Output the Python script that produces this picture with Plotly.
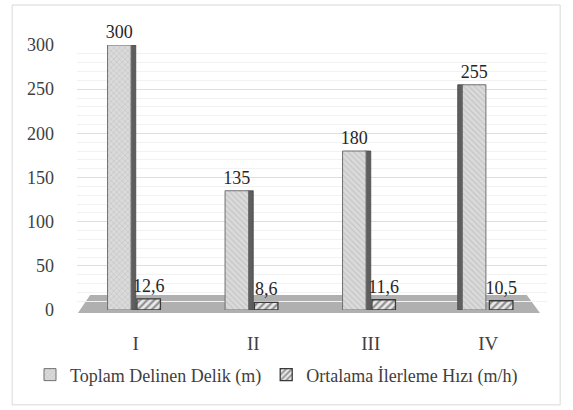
import plotly.graph_objects as go

# Veri
kategoriler = ["I", "II", "III", "IV"]
toplam_delik = [300, 135, 180, 255]
ilerleme_hizi = [12.6, 8.6, 11.6, 10.5]
y_ticks = [0, 50, 100, 150, 200, 250, 300]

FONT = "Liberation Serif, Times New Roman, serif"
GRI = "#404040"


def _virgul(v):
    return f"{v:.1f}".replace(".", ",")


fig = go.Figure()

# 3B yan yüz (koyu şerit) — ana çubuğun arkasında
fig.add_trace(go.Bar(
    x=kategoriler, y=toplam_delik, showlegend=False, hoverinfo="skip",
    width=0.05, offset=[-0.05, -0.05, -0.05, -0.26],
    marker=dict(color="#5e5e5e", line=dict(color="#454545", width=0.8)),
))

# Toplam delinen delik
fig.add_trace(go.Bar(
    x=kategoriler, y=toplam_delik,
    name="Toplam Delinen Delik (m)",
    width=0.2, offset=[-0.24, -0.24, -0.24, -0.22],
    text=[str(v) for v in toplam_delik], textposition="outside",
    constraintext="none",
    textfont=dict(family=FONT, size=18, color="#262626"),
    marker=dict(
        color="#d6d6d6",
        line=dict(color="#707070", width=1),
        pattern=dict(shape=["x", "\\", "\\", "\\"], fgcolor="#a5a5a5",
                     bgcolor="#dadada", size=4, solidity=0.25),
    ),
    cliponaxis=False,
))

# Ortalama ilerleme hızı
fig.add_trace(go.Bar(
    x=kategoriler, y=ilerleme_hizi,
    name="Ortalama İlerleme Hızı (m/h)",
    width=0.2, offset=0.01,
    text=[_virgul(v) for v in ilerleme_hizi], textposition="outside",
    constraintext="none",
    textfont=dict(family=FONT, size=18, color="#262626"),
    marker=dict(
        color="#8c8c8c",
        line=dict(color="#3a3a3a", width=1.3),
        pattern=dict(shape="/", fgcolor="#3a3a3a", bgcolor="#e8e8e8",
                     size=5, solidity=0.45),
    ),
    cliponaxis=False,
))

# Zemin (3B görünüm) ve dış çerçeve
fig.add_shape(type="path", xref="paper", yref="paper", layer="below",
              path="M 0.028,0.057 L 0.957,0.057 L 0.985,-0.011 L 0.002,-0.011 Z",
              fillcolor="#b0b0b0", line=dict(width=0))
fig.add_shape(type="rect", xref="paper", yref="paper", layer="below",
              x0=-0.138, x1=1.028, y0=-0.358, y1=1.151,
              line=dict(color="#d9d9d9", width=1), fillcolor="rgba(0,0,0,0)")

fig.update_layout(
    width=573, height=410,
    margin=dict(l=77, r=26, t=45, b=100),
    paper_bgcolor="white", plot_bgcolor="white",
    barmode="overlay",
    font=dict(family=FONT, size=18, color=GRI),
    showlegend=True,
    legend=dict(orientation="h", x=-0.1, xanchor="left", y=-0.245, yanchor="middle",
                font=dict(family=FONT, size=18, color=GRI),
                itemwidth=30, tracegroupgap=0),
)
fig.update_yaxes(range=[0, 300], tickvals=y_ticks, showgrid=True, gridcolor="#dedede",
                 gridwidth=1, zeroline=False, showline=False, ticks="",
                 ticklabelstandoff=22,
                 tickfont=dict(family=FONT, size=18, color=GRI),
                 minor=dict(dtick=10, showgrid=True, gridcolor="#f2f2f2", gridwidth=1))
fig.update_xaxes(showgrid=False, showline=False, ticks="", ticklabelstandoff=20,
                 tickfont=dict(family=FONT, size=19, color=GRI))

fig.write_html("out.html", config={"displayModeBar": False},
               post_script="document.body.style.margin='0';")
